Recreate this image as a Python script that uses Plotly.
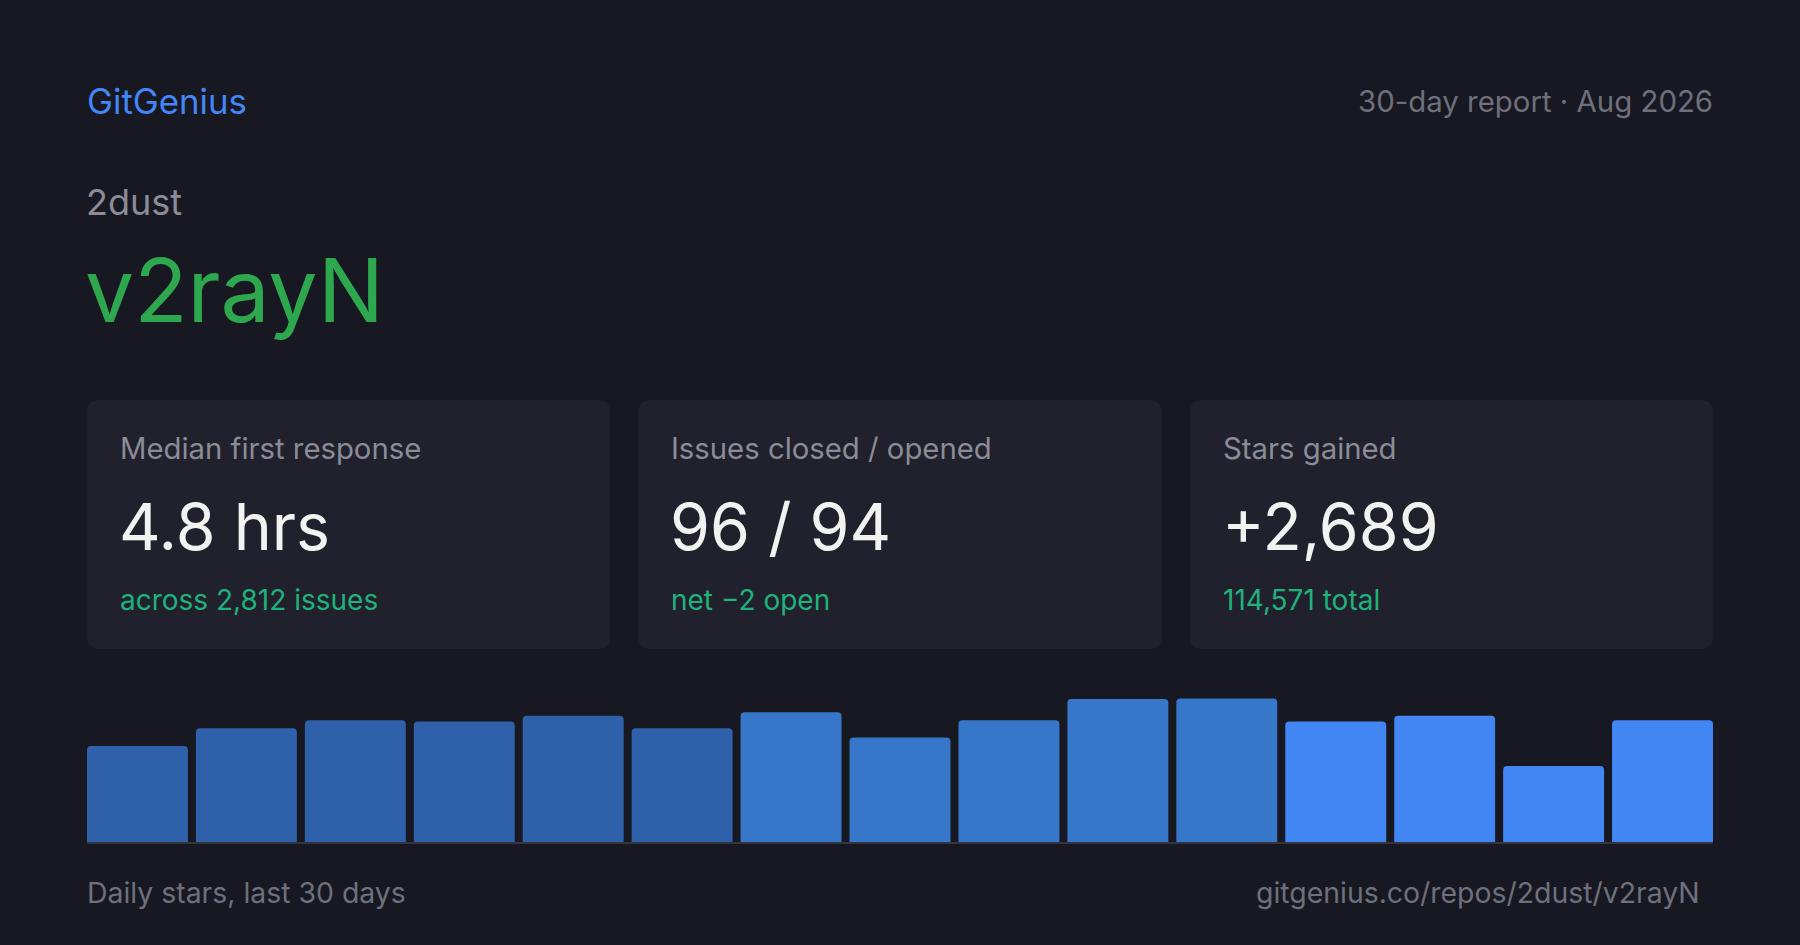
import plotly.graph_objects as go

W, H = 1800, 945

# Header text
brand = "GitGenius"
report_label = "30-day report · Aug 2026"
owner = "2dust"
repo = "v2rayN"

# Stat cards
card_labels = ["Median first response", "Issues closed / opened", "Stars gained"]
card_values = ["4.8 hrs", "96 / 94", "+2,689"]
card_notes = ["across 2,812 issues", "net −2 open", "114,571 total"]

# Daily stars (bars, oldest first)
periods = [1, 2, 3, 4, 5, 6, 7, 8, 9, 10, 11, 12, 13, 14, 15]
stars = [145, 172, 184, 182, 191, 172, 196, 158, 184, 216, 217, 182, 191, 115, 184]

footer_left = "Daily stars, last 30 days"
footer_right = "gitgenius.co/repos/2dust/v2rayN"

# Colours
BG = "#171821"
CARD = "#20212c"
MUTED = "#8b8c97"
DIM = "#6e707c"
WHITE = "#f2f2f0"
TEAL = "#20b27c"
GREEN = "#2ea84f"
BLUE = "#4287f5"
BAR_DARK = "#2f60aa"
BAR_MID = "#3777c9"
BAR_BRIGHT = "#4286f4"
FONT = "Inter"


def px(x):
    return x / W


def py(y):
    return 1 - y / H


def rounded_rect(x0, y0, x1, y1, r):
    """SVG path for a rounded rectangle, pixel coords -> paper coords"""
    pts = [
        ("M", [(x0 + r, y0)]),
        ("L", [(x1 - r, y0)]),
        ("Q", [(x1, y0), (x1, y0 + r)]),
        ("L", [(x1, y1 - r)]),
        ("Q", [(x1, y1), (x1 - r, y1)]),
        ("L", [(x0 + r, y1)]),
        ("Q", [(x0, y1), (x0, y1 - r)]),
        ("L", [(x0, y0 + r)]),
        ("Q", [(x0, y0), (x0 + r, y0)]),
    ]
    out = ""
    for cmd, coords in pts:
        out += cmd + " ".join(f"{px(a):.5f},{py(b):.5f}" for a, b in coords) + " "
    return out + "Z"


bar_colors = [BAR_DARK] * 6 + [BAR_MID] * 5 + [BAR_BRIGHT] * 4
gap = 0.0734

fig = go.Figure()
fig.add_trace(go.Bar(
    x=list(range(len(periods))),
    y=stars,
    marker=dict(color=bar_colors, line=dict(width=0), cornerradius=4),
    hovertext=[f"Period {p}: {s} stars" for p, s in zip(periods, stars)],
    hoverinfo="text",
))

LEFT, RIGHT = 87, 1713
fig.update_layout(
    width=W, height=H,
    margin=dict(l=0, r=0, t=0, b=0),
    paper_bgcolor=BG, plot_bgcolor=BG,
    showlegend=False,
    bargap=gap,
    font=dict(family=FONT, color=WHITE),
    xaxis=dict(
        domain=[px(LEFT), px(RIGHT)],
        range=[-0.5 + gap / 2, len(periods) - 0.5 - gap / 2],
        showgrid=False, zeroline=False, showticklabels=False,
        showline=True, linecolor="#33343f", linewidth=2, fixedrange=True,
    ),
    yaxis=dict(
        domain=[py(842), py(670)],
        range=[0, 260],
        showgrid=False, zeroline=False, showticklabels=False, fixedrange=True,
    ),
)

# Cards
card_w = (RIGHT - LEFT - 2 * 28) / 3
shapes = []
annotations = []


def label(text, x, y, size, color, anchor="left"):
    annotations.append(dict(
        text=text, x=px(x), y=py(y), xref="paper", yref="paper",
        xanchor=anchor, yanchor="middle", showarrow=False,
        borderpad=0, borderwidth=0,
        font=dict(family=FONT, size=size, color=color),
    ))


for i in range(3):
    x0 = LEFT + i * (card_w + 28)
    shapes.append(dict(
        type="path", path=rounded_rect(x0, 400, x0 + card_w, 649, 13),
        xref="paper", yref="paper", fillcolor=CARD, line=dict(width=0), layer="below",
    ))
    label(card_labels[i], x0 + 33, 449, 29.3, MUTED)
    label(card_values[i], x0 + 32, 527, 64.5, WHITE)
    label(card_notes[i], x0 + 33, 600, 28, TEAL)

label(brand, LEFT, 101, 34.8, BLUE)
label(report_label, RIGHT, 101, 29.4, DIM, anchor="right")
label(owner, LEFT - 1, 202, 36, MUTED)
label(repo, LEFT - 2, 290, 87.5, GREEN)
label(footer_left, LEFT, 892, 28.4, DIM)
label(footer_right, 1700, 892, 28.4, DIM, anchor="right")

fig.update_layout(shapes=shapes, annotations=annotations)

fig.write_html("out.html", config={"displayModeBar": False},
               post_script="document.body.style.margin='0';")
